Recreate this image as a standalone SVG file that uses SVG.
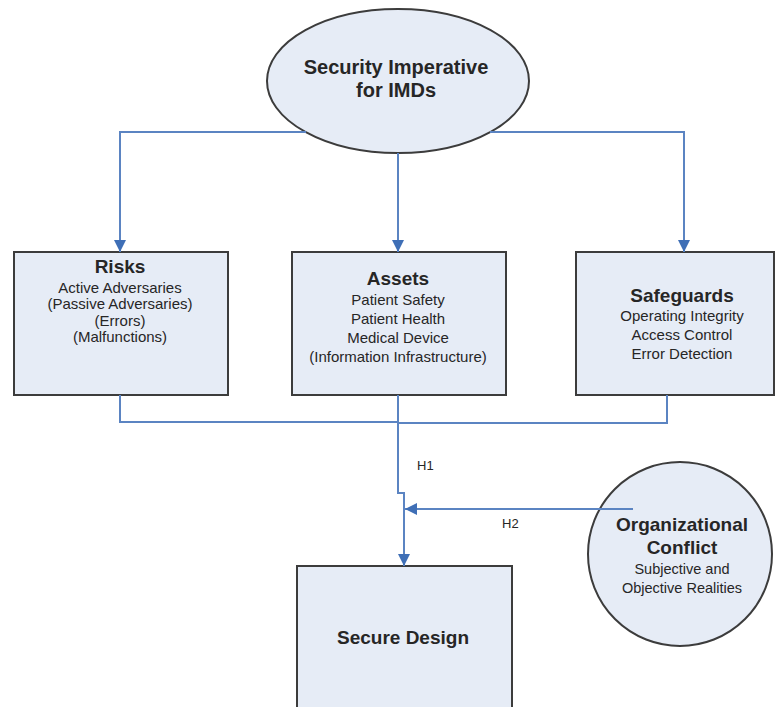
<svg xmlns="http://www.w3.org/2000/svg" width="775" height="707" viewBox="0 0 775 707">
<defs>
<style>
.shape{fill:#e6ecf6;stroke:#3c3c3c;stroke-width:2}
.conn{fill:none;stroke:#5b84c2;stroke-width:2}
.t{font-family:"Liberation Sans",Arial,sans-serif;fill:#262626;text-anchor:middle}
.b{font-weight:bold;font-size:19px}
.r{font-size:15px}
.s{font-size:14.5px}
.lbl{font-family:"Liberation Sans",Arial,sans-serif;font-size:13px;fill:#262626}
</style>
<marker id="ah" viewBox="0 0 10 10" refX="10" refY="5" markerWidth="6" markerHeight="6" markerUnits="strokeWidth" orient="auto">
<path d="M0,0 L10,5 L0,10 z" fill="#3f6fb6"/>
</marker>
</defs>
<rect width="775" height="707" fill="#ffffff"/>

<g id="security-imperative">
<ellipse class="shape" cx="398" cy="81" rx="131" ry="72"/>
<text class="t b" x="396" y="74" style="font-size:20px">Security Imperative</text>
<text class="t b" x="396" y="97" style="font-size:20px">for IMDs</text>
</g>

<g id="risks">
<rect class="shape" x="14" y="252" width="214" height="143"/>
<text class="t b" x="120" y="273">Risks</text>
<text class="t r" x="120" y="293">Active Adversaries</text>
<text class="t r" x="120" y="309">(Passive Adversaries)</text>
<text class="t r" x="120" y="326">(Errors)</text>
<text class="t r" x="120" y="342">(Malfunctions)</text>
</g>

<g id="assets">
<rect class="shape" x="292" y="252" width="214" height="143"/>
<text class="t b" x="398" y="285">Assets</text>
<text class="t r" x="398" y="305">Patient Safety</text>
<text class="t r" x="398" y="324">Patient Health</text>
<text class="t r" x="398" y="343">Medical Device</text>
<text class="t r" x="398" y="362">(Information Infrastructure)</text>
</g>

<g id="safeguards">
<rect class="shape" x="576" y="252" width="198" height="143"/>
<text class="t b" x="682" y="302">Safeguards</text>
<text class="t r" x="682" y="321">Operating Integrity</text>
<text class="t r" x="682" y="340">Access Control</text>
<text class="t r" x="682" y="359">Error Detection</text>
</g>

<g id="organizational-conflict">
<circle class="shape" cx="680" cy="554" r="92"/>
<text class="t b" x="682" y="531">Organizational</text>
<text class="t b" x="682" y="554">Conflict</text>
<text class="t s" x="682" y="574">Subjective and</text>
<text class="t s" x="682" y="593">Objective Realities</text>
</g>

<g id="secure-design">
<rect class="shape" x="297" y="566" width="215" height="160"/>
<text class="t b" x="403" y="644">Secure Design</text>
</g>

<g id="connectors">
<path class="conn" d="M306,132 H120 V252" marker-end="url(#ah)"/>
<path class="conn" d="M490,132 H684 V252" marker-end="url(#ah)"/>
<path class="conn" d="M398,153 V252" marker-end="url(#ah)"/>
<path class="conn" d="M120,395 V422 H398"/>
<path class="conn" d="M667,395 V423 H398"/>
<path class="conn" d="M398,395 V493 H404 V566" marker-end="url(#ah)"/>
<path class="conn" d="M633,509 H405" marker-end="url(#ah)"/>
<text class="lbl" x="417" y="470">H1</text>
<text class="lbl" x="502" y="528">H2</text>
</g>
</svg>
